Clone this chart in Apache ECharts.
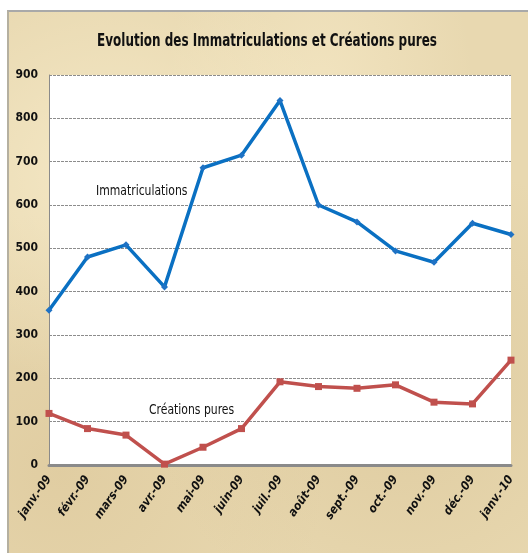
<!DOCTYPE html>
<html>
<head>
<meta charset="utf-8">
<script src="https://cdn.jsdelivr.net/npm/echarts@6/dist/echarts.min.js"></script>
<style>
html,body{margin:0;padding:0;background:#fff;}
#frame{position:absolute;left:7px;top:10px;width:521px;height:543px;
 background-color:#e8d8b0;
 background-image:
  radial-gradient(ellipse at 20% 30%, rgba(255,245,215,0.55), rgba(255,245,215,0) 40%),
  radial-gradient(ellipse at 75% 70%, rgba(205,180,130,0.35), rgba(205,180,130,0) 45%),
  radial-gradient(ellipse at 60% 15%, rgba(250,238,205,0.5), rgba(250,238,205,0) 35%),
  radial-gradient(ellipse at 10% 85%, rgba(210,185,135,0.35), rgba(210,185,135,0) 40%);
 border-top:2px solid #a9a9a9;border-left:2px solid #b5b0a0;box-sizing:border-box;}
#chart{position:absolute;left:0;top:0;width:528px;height:553px;}
</style>
</head>
<body>
<div id="frame"></div>
<div id="chart"></div>
<script>
const categories = ["janv.-09","févr.-09","mars-09","avr.-09","mai-09","juin-09","juil.-09","août-09","sept.-09","oct.-09","nov.-09","déc.-09","janv.-10"];
const immatriculations = [357, 480, 508, 411, 686, 715, 841, 600, 561, 494, 468, 558, 532];
const creationsPures = [119, 84, 69, 2, 41, 84, 192, 181, 177, 185, 145, 141, 242];
const yTicks = [0, 100, 200, 300, 400, 500, 600, 700, 800, 900];
const titleText = 'Evolution des Immatriculations et Créations pures';

const FONT = '"Liberation Sans Narrow", "DejaVu Sans Condensed", "Liberation Sans", sans-serif';
const chart = echarts.init(document.getElementById('chart'), null, {renderer: 'canvas'});
chart.setOption({
  animation: false,
  backgroundColor: 'transparent',
  grid: {left: 49, top: 75, right: 17, bottom: 88, show: true, backgroundColor: '#ffffff', borderWidth: 0},
  xAxis: {
    type: 'category', data: categories, boundaryGap: false,
    axisLine: {lineStyle: {color: '#8a8a8a', width: 3}},
    axisTick: {show: false},
    axisLabel: {rotate: 55, margin: 12, fontFamily: FONT, fontSize: 12, fontWeight: 'bold', fontStyle: 'italic', color: '#111', interval: 0}
  },
  yAxis: {
    type: 'value', min: yTicks[0], max: yTicks[yTicks.length - 1], interval: 100,
    axisLine: {show: true, lineStyle: {color: '#8a8a8a', width: 1}},
    axisTick: {show: false},
    axisLabel: {margin: 11, fontFamily: FONT, fontSize: 12, fontWeight: 'bold', color: '#111'},
    splitLine: {lineStyle: {color: '#8c8c8c', type: [3, 1], width: 1}}
  },
  graphic: [
    {type: 'text', x: 267, y: 41, scaleX: 0.74, style: {text: titleText, textAlign: 'center', textVerticalAlign: 'middle', fontFamily: FONT, fontSize: 18, fontWeight: 'bold', fill: '#111'}},
    {type: 'text', x: 96, y: 191, scaleX: 0.86, style: {text: 'Immatriculations', textAlign: 'left', textVerticalAlign: 'middle', fontFamily: FONT, fontSize: 14, fill: '#111'}},
    {type: 'text', x: 149, y: 410, scaleX: 0.86, style: {text: 'Créations pures', textAlign: 'left', textVerticalAlign: 'middle', fontFamily: FONT, fontSize: 14, fill: '#111'}}
  ],
  series: [
    {
      name: 'Immatriculations', type: 'line', data: immatriculations,
      symbol: 'diamond', symbolSize: 7,
      lineStyle: {color: '#0a70c2', width: 3.5},
      itemStyle: {color: '#1f72c4'}
    },
    {
      name: 'Créations pures', type: 'line', data: creationsPures,
      symbol: 'rect', symbolSize: 7,
      lineStyle: {color: '#c0504d', width: 3.5},
      itemStyle: {color: '#c0504d'}
    }
  ]
});
</script>
</body>
</html>
